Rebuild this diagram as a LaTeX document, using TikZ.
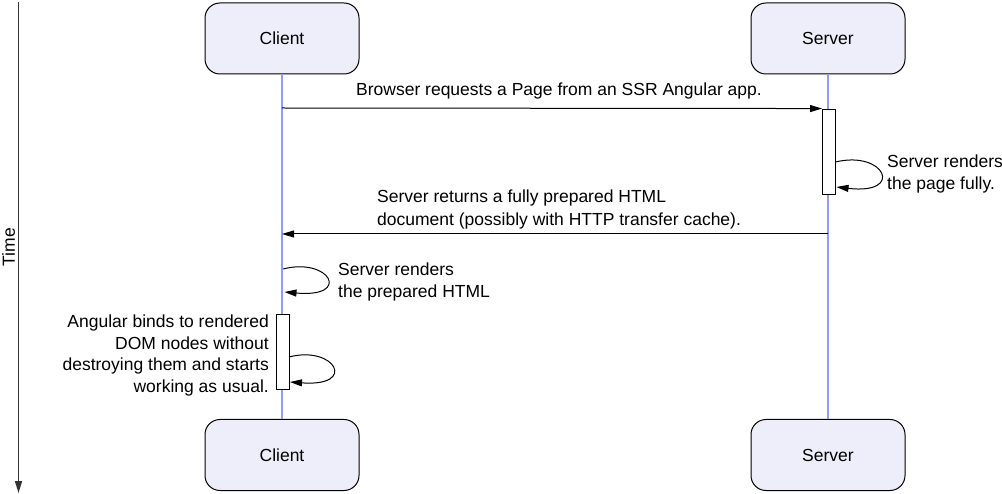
\documentclass[tikz,border=0pt]{standalone}
\usepackage{fontspec}
\setmainfont{Liberation Sans}
\usetikzlibrary{arrows.meta}
\definecolor{boxfill}{HTML}{EEEEFA}
\definecolor{lifeblue}{HTML}{8F9DF7}
\definecolor{axisgray}{HTML}{333333}
\tikzset{
  actor/.style={draw=black, fill=boxfill, rounded corners=15pt, minimum width=154pt, minimum height=71pt, line width=1pt, inner sep=0pt, font=\fontsize{17.5}{21}\selectfont},
  lifeline/.style={draw=lifeblue, line width=1.5pt},
  actbar/.style={draw=black, fill=white, line width=0.9pt, minimum width=13pt, inner sep=0pt},
  msg/.style={draw=black, line width=1pt, -{Triangle[length=12pt,width=7pt]}},
  lbl/.style={font=\fontsize{17.5}{21.5}\selectfont, inner sep=0pt},
}
\begin{document}
\begin{tikzpicture}[x=1pt,y=-1pt]
\useasboundingbox (0,0) rectangle (1002,494);
% time axis
\coordinate (t0) at (18.5,2);
\coordinate (t1) at (18.5,493);
\draw[axisgray, line width=1.6pt, -{Triangle[length=12pt,width=7pt]}] (t0) -- (t1);
\node[lbl, rotate=90] (time) at (8.5,247) {Time};
% actors
\node[actor] (ct) at (282,38.5) {Client};
\node[actor] (st) at (828,38.5) {Server};
\node[actor] (cb) at (282,455) {Client};
\node[actor] (sb) at (828,455) {Server};
% lifelines
\draw[lifeline] (ct.south) -- (cb.north);
\draw[lifeline] (st.south) -- (sb.north);
% activation bars
\node[actbar, minimum height=85pt] (sbar) at (829,151.5) {};
\node[actbar, minimum height=75pt] (cbar) at (282.5,351.5) {};
% message 1
\coordinate (m1s) at (ct.south |- 0,108);
\draw[msg] (m1s) -- (sbar.north west);
\node[lbl] (m1l) at (559,91) {Browser requests a Page from an SSR Angular app.};
% server self loop
\coordinate (sl1) at (835.5,162);
\coordinate (sl2) at (836.5,187);
\draw[msg] (sl1) .. controls (885,150) and (905,195) .. (sl2);
\node[lbl, anchor=west, align=left] (sll) at (887,174) {Server renders\\the page fully.};
% message 2
\coordinate (m2s) at (st.south |- 0,234);
\coordinate (m2e) at (ct.south |- 0,234);
\draw[msg] (m2s) -- (m2e);
\node[lbl, anchor=west, align=left, font=\fontsize{17.5}{22.5}\selectfont] (m2l) at (377,209.5) {Server returns a fully prepared HTML\\document (possibly with HTTP transfer cache).};
% client self loop 1
\coordinate (cl1s) at (283,269);
\coordinate (cl1e) at (284.5,292);
\draw[msg] (cl1s) .. controls (330,257) and (352,298) .. (cl1e);
\node[lbl, anchor=west, align=left] (cl1l) at (338,282) {Server renders\\the prepared HTML};
% client self loop 2
\coordinate (cl2s) at (289,357);
\coordinate (cl2e) at (290,382);
\draw[msg] (cl2s) .. controls (335,345) and (358,387) .. (cl2e);
\node[lbl, anchor=east, align=right] (cl2l) at (269,355.5) {Angular binds to rendered\\DOM nodes without\\destroying them and starts\\working as usual.};
\end{tikzpicture}
\end{document}
